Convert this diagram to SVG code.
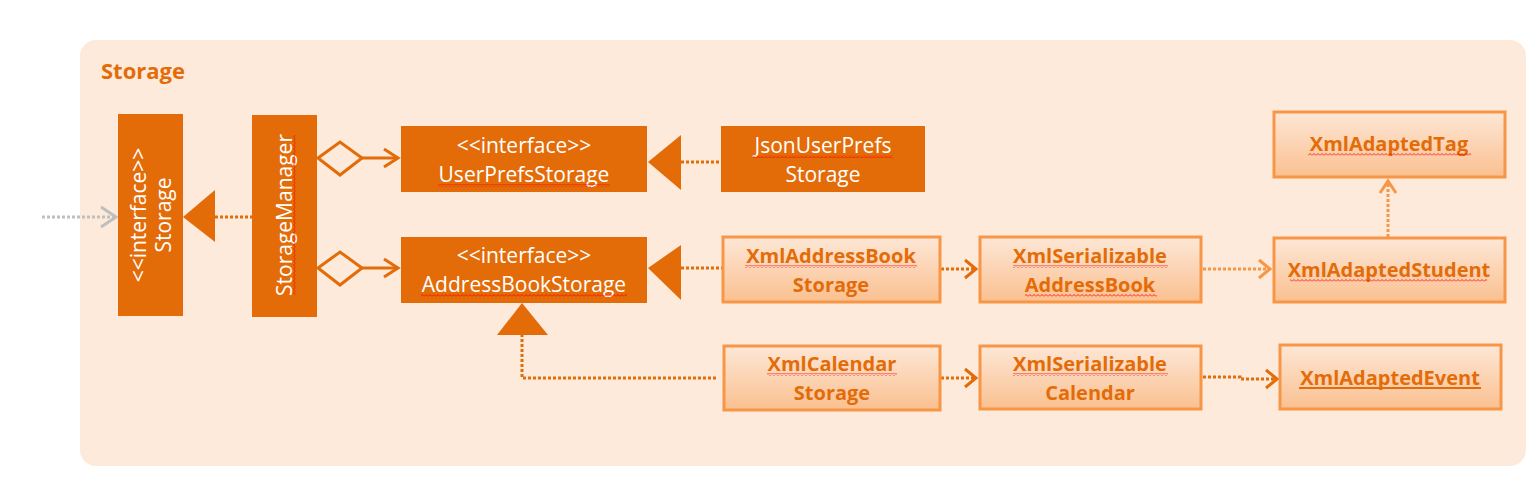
<svg xmlns="http://www.w3.org/2000/svg" width="1537" height="496" viewBox="0 0 1537 496">
<style>
.bg{fill:#FDEADA}
.title{font-family:"Open Sans","Liberation Sans",sans-serif;font-weight:bold;font-size:22px;fill:#E36C09}
.dark{fill:#E36C09}
.dt{font-family:"Open Sans","Liberation Sans",sans-serif;font-size:21px;fill:#FFFFFF;text-anchor:middle}
.light{fill:url(#lg);stroke:#F79646;stroke-width:3}
.lt{font-family:"Open Sans","Liberation Sans",sans-serif;font-weight:bold;font-size:20px;fill:#E36C09;text-anchor:middle}
.dot{fill:none;stroke:#E36C09;stroke-width:3;stroke-dasharray:3 2}
.dotl{fill:none;stroke:#F79646;stroke-width:3;stroke-dasharray:3 2}
.gray{fill:none;stroke:#BFBFBF;stroke-width:3;stroke-dasharray:3 2}
.open{fill:none;stroke:#E36C09;stroke-width:3}
.openl{fill:none;stroke:#F79646;stroke-width:3}
.openg{fill:none;stroke:#BFBFBF;stroke-width:3}
.tri{fill:#E36C09}
.dia{fill:#FDEADA;stroke:#E36C09;stroke-width:3}
.sq{fill:url(#squig)}
</style>
<defs>
<linearGradient id="lg" x1="0" y1="0" x2="0" y2="1">
<stop offset="0" stop-color="#FDE7D6"/>
<stop offset="1" stop-color="#FAC090"/>
</linearGradient>
<pattern id="squig" width="4" height="3" patternUnits="userSpaceOnUse">
<path d="M0,2.5 L2,0.5 L4,2.5" fill="none" stroke="#FF0000" stroke-width="0.8"/>
</pattern>
</defs>

<rect class="bg" x="80" y="40" width="1446" height="426" rx="16"/>
<text class="title" x="101" y="79">Storage</text>

<g id="connectors">
  <line class="gray" x1="42" y1="217" x2="114" y2="217"/>
  <polyline class="openg" points="101,207 116,217 101,227"/>
  <line class="dot" x1="215" y1="217" x2="252" y2="217"/>
  <polygon class="tri" points="183,217 215,190 215,242"/>
  <polygon class="dia" points="318,158 340,142 362,158 340,175"/>
  <line class="open" x1="362" y1="158" x2="398" y2="158"/>
  <polyline class="open" points="384,149 398,158 384,167"/>
  <polygon class="dia" points="318,268 340,252 362,268 340,285"/>
  <line class="open" x1="362" y1="268" x2="398" y2="268"/>
  <polyline class="open" points="384,259 398,268 384,277"/>
  <line class="dot" x1="681" y1="162" x2="721" y2="162"/>
  <polygon class="tri" points="648,162 681,135 681,190"/>
  <line class="dot" x1="681" y1="268" x2="722" y2="268"/>
  <polygon class="tri" points="648,268 681,245 681,300"/>
  <polyline class="dot" points="716,378 522,378 522,335"/>
  <polygon class="tri" points="522,303 497,335 548,335"/>
  <line class="dot" x1="941" y1="269" x2="975" y2="269"/>
  <polyline class="open" points="965,260 976,269 965,278"/>
  <line class="dotl" x1="1203" y1="269" x2="1269" y2="269"/>
  <polyline class="openl" points="1259,260 1270,269 1259,278"/>
  <line class="dotl" x1="1388" y1="237" x2="1388" y2="182"/>
  <polyline class="openl" points="1380,193 1388,181 1396,193"/>
  <line class="dot" x1="941" y1="378" x2="975" y2="378"/>
  <polyline class="open" points="965,369 976,378 965,387"/>
  <polyline class="dot" points="1203,377 1240,377 1240,379 1276,379"/>
  <polyline class="open" points="1266,370 1277,379 1266,388"/>
</g>

<g id="node-storage">
  <rect class="dark" x="118" y="114" width="65" height="202"/>
  <g transform="translate(150,215) rotate(-90)">
    <text class="dt" x="0" y="-4">&lt;&lt;interface&gt;&gt;</text>
    <text class="dt" x="0" y="21">Storage</text>
  </g>
</g>

<g id="node-storagemanager">
  <rect class="dark" x="252" y="115" width="65" height="202"/>
  <g transform="translate(284,215) rotate(-90)">
    <text class="dt" x="0" y="8">StorageManager</text>
    <rect class="sq" x="-80" y="9" width="160" height="3"/>
  </g>
</g>

<g id="node-userprefsstorage">
  <rect class="dark" x="401" y="126" width="246" height="66"/>
  <text class="dt" x="524" y="153">&lt;&lt;interface&gt;&gt;</text>
  <text class="dt" x="524" y="182">UserPrefsStorage</text>
  <rect class="sq" x="438" y="184" width="172" height="3"/>
</g>

<g id="node-jsonuserprefsstorage">
  <rect class="dark" x="721" y="126" width="204" height="66"/>
  <text class="dt" x="823" y="153">JsonUserPrefs</text>
  <text class="dt" x="823" y="182">Storage</text>
  <rect class="sq" x="753" y="155" width="140" height="3"/>
</g>

<g id="node-addressbookstorage">
  <rect class="dark" x="401" y="237" width="246" height="66"/>
  <text class="dt" x="524" y="263">&lt;&lt;interface&gt;&gt;</text>
  <text class="dt" x="524" y="292">AddressBookStorage</text>
  <rect class="sq" x="421" y="294" width="206" height="3"/>
</g>

<g id="node-xmladdressbookstorage">
  <rect class="light" x="723" y="237" width="217" height="65"/>
  <text class="lt" x="831" y="263">XmlAddressBook</text>
  <text class="lt" x="831" y="292">Storage</text>
  <rect class="sq" x="745" y="265" width="172" height="3"/>
</g>

<g id="node-xmlserializableaddressbook">
  <rect class="light" x="980" y="237" width="221" height="65"/>
  <text class="lt" x="1090" y="263">XmlSerializable</text>
  <text class="lt" x="1090" y="292">AddressBook</text>
  <rect class="sq" x="1013" y="265" width="155" height="3"/>
  <rect class="sq" x="1025" y="294" width="132" height="3"/>
</g>

<g id="node-xmladaptedstudent">
  <rect class="light" x="1274" y="238" width="231" height="64"/>
  <text class="lt" x="1389" y="277">XmlAdaptedStudent</text>
  <rect class="sq" x="1290" y="279" width="197" height="3"/>
</g>

<g id="node-xmladaptedtag">
  <rect class="light" x="1274" y="112" width="231" height="65"/>
  <text class="lt" x="1389" y="151">XmlAdaptedTag</text>
  <rect class="sq" x="1308" y="153" width="163" height="3"/>
</g>

<g id="node-xmlcalendarstorage">
  <rect class="light" x="724" y="346" width="216" height="64"/>
  <text class="lt" x="832" y="371">XmlCalendar</text>
  <text class="lt" x="832" y="400">Storage</text>
  <rect class="sq" x="767" y="373" width="130" height="3"/>
</g>

<g id="node-xmlserializablecalendar">
  <rect class="light" x="980" y="346" width="221" height="63"/>
  <text class="lt" x="1090" y="371">XmlSerializable</text>
  <text class="lt" x="1090" y="400">Calendar</text>
  <rect class="sq" x="1013" y="373" width="155" height="3"/>
</g>

<g id="node-xmladaptedevent">
  <rect class="light" x="1280" y="345" width="221" height="64"/>
  <text class="lt" x="1390" y="385">XmlAdaptedEvent</text>
  <line x1="1299" y1="388" x2="1481" y2="388" stroke="#E36C09" stroke-width="2"/>
</g>
</svg>
